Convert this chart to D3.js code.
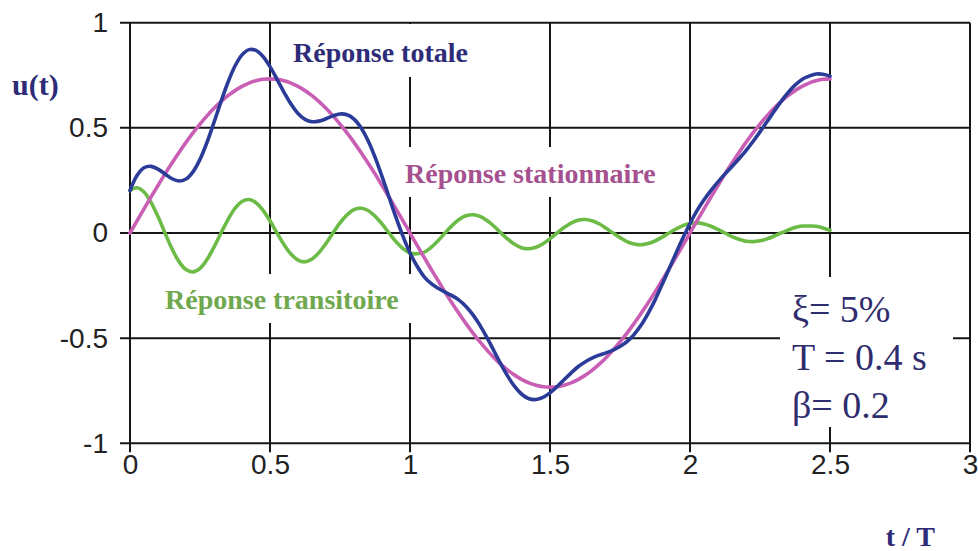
<!DOCTYPE html>
<html>
<head>
<meta charset="utf-8">
<script src="https://cdn.jsdelivr.net/npm/d3@7"></script>
<style>
  html, body { margin: 0; padding: 0; background: #ffffff; }
  svg { display: block; }
</style>
</head>
<body>
<svg id="chart" width="978" height="551"></svg>
<script>
// Sampling step of the curves along t/T (0 to 2.5)
const tStep = 0.025;

// Total response u(t)
const totalResponse = [
  0.202, 0.273, 0.310, 0.317, 0.304, 0.281, 0.258, 0.247, 0.257, 0.291,
  0.350, 0.431, 0.526, 0.625, 0.717, 0.794, 0.847, 0.872, 0.868, 0.839,
  0.791, 0.731, 0.669, 0.613, 0.568, 0.540, 0.529, 0.532, 0.543, 0.557,
  0.566, 0.562, 0.542, 0.501, 0.440, 0.361, 0.269, 0.171, 0.074, -0.016,
  -0.095, -0.157, -0.207, -0.240, -0.263, -0.281, -0.298, -0.319, -0.349, -0.389,
  -0.439, -0.498, -0.561, -0.625, -0.683, -0.732, -0.768, -0.788, -0.792, -0.782,
  -0.760, -0.731, -0.698, -0.666, -0.636, -0.613, -0.595, -0.581, -0.570, -0.557,
  -0.540, -0.517, -0.483, -0.439, -0.383, -0.319, -0.246, -0.171, -0.096, -0.023,
  0.045, 0.106, 0.158, 0.203, 0.243, 0.281, 0.316, 0.353, 0.392, 0.435,
  0.481, 0.529, 0.578, 0.625, 0.667, 0.703, 0.730, 0.746, 0.756, 0.755,
  0.746
];

// Steady-state response
const steadyResponse = [
  0.000, 0.058, 0.115, 0.171, 0.226, 0.281, 0.333, 0.383, 0.431, 0.476,
  0.518, 0.557, 0.593, 0.625, 0.653, 0.677, 0.697, 0.713, 0.724, 0.731,
  0.733, 0.731, 0.724, 0.713, 0.697, 0.677, 0.653, 0.625, 0.593, 0.557,
  0.518, 0.476, 0.431, 0.383, 0.333, 0.281, 0.226, 0.171, 0.115, 0.058,
  0.000, -0.058, -0.115, -0.171, -0.226, -0.281, -0.333, -0.383, -0.431, -0.476,
  -0.518, -0.557, -0.593, -0.625, -0.653, -0.677, -0.697, -0.713, -0.724, -0.731,
  -0.733, -0.731, -0.724, -0.713, -0.697, -0.677, -0.653, -0.625, -0.593, -0.557,
  -0.518, -0.476, -0.431, -0.383, -0.333, -0.281, -0.226, -0.171, -0.115, -0.058,
  0.000, 0.058, 0.115, 0.171, 0.226, 0.281, 0.333, 0.383, 0.431, 0.476,
  0.518, 0.557, 0.593, 0.625, 0.653, 0.677, 0.697, 0.713, 0.724, 0.731,
  0.733
];

// Transient (damped free vibration) response
const transientResponse = [
  0.202, 0.215, 0.195, 0.146, 0.078, 0.000, -0.075, -0.136, -0.174, -0.185,
  -0.168, -0.126, -0.067, 0.000, 0.064, 0.117, 0.150, 0.159, 0.144, 0.108,
  0.058, 0.000, -0.055, -0.100, -0.129, -0.137, -0.124, -0.093, -0.050, 0.000,
  0.048, 0.086, 0.111, 0.118, 0.107, 0.080, 0.043, 0.000, -0.041, -0.074,
  -0.095, -0.099, -0.092, -0.069, -0.037, 0.000, 0.035, 0.064, 0.082, 0.087,
  0.079, 0.059, 0.032, 0.000, -0.030, -0.055, -0.071, -0.075, -0.068, -0.051,
  -0.027, 0.000, 0.026, 0.047, 0.061, 0.064, 0.058, 0.044, 0.023, 0.000,
  -0.022, -0.041, -0.052, -0.056, -0.050, -0.038, -0.020, 0.000, 0.019, 0.035,
  0.045, 0.048, 0.043, 0.032, 0.017, 0.000, -0.017, -0.030, -0.039, -0.041,
  -0.037, -0.028, -0.015, 0.000, 0.014, 0.026, 0.033, 0.033, 0.032, 0.024,
  0.013
];

const xTicks = [0, 0.5, 1, 1.5, 2, 2.5, 3];
const xTickLabels = ["0", "0.5", "1", "1.5", "2", "2.5", "3"];
const yTicks = [1, 0.5, 0, -0.5, -1];
const yTickLabels = ["1", "0.5", "0", "-0.5", "-1"];

const seriesNames = ["Réponse totale", "Réponse stationnaire", "Réponse transitoire"];
const paramLines = ["ξ= 5%", "T = 0.4 s", "β= 0.2"];
const yTitle = "u(t)";
const xTitle = "t / T";

const svg = d3.select("#chart");
const W = 978, H = 551;
svg.append("rect").attr("width", W).attr("height", H).attr("fill", "#ffffff");

const x = d3.scaleLinear().domain([0, 3]).range([130, 970]);
const y = d3.scaleLinear().domain([-1, 1]).range([443.3, 22.7]);

const gridColor = "#161616";
const grid = svg.append("g");

// horizontal grid lines, extending left as tick marks
grid.selectAll("line.h").data(yTicks).join("line")
  .attr("x1", x(0) - 10).attr("x2", x(3))
  .attr("y1", d => y(d)).attr("y2", d => y(d))
  .attr("stroke", gridColor).attr("stroke-width", 2);

// vertical grid lines, extending below as tick marks
grid.selectAll("line.v").data(xTicks).join("line")
  .attr("x1", d => x(d)).attr("x2", d => x(d))
  .attr("y1", y(1)).attr("y2", y(-1) + 9)
  .attr("stroke", gridColor).attr("stroke-width", 2);

// tick labels
const yAxis = d3.axisLeft(y).tickValues(yTicks)
  .tickFormat((d, i) => yTickLabels[i]).tickSize(0).tickPadding(22);
const gy = svg.append("g").attr("transform", `translate(${x(0)},0)`).call(yAxis);
gy.select(".domain").remove();
gy.selectAll("text")
  .attr("font-family", "'Liberation Sans', Arial, sans-serif")
  .attr("font-size", 28).attr("fill", "#222");

const xAxis = d3.axisBottom(x).tickValues(xTicks)
  .tickFormat((d, i) => xTickLabels[i]).tickSize(0).tickPadding(11);
const gx = svg.append("g").attr("transform", `translate(0,${y(-1)})`).call(xAxis);
gx.select(".domain").remove();
gx.selectAll("text")
  .attr("font-family", "'Liberation Sans Narrow', 'Liberation Sans', Arial, sans-serif")
  .attr("font-size", 28).attr("fill", "#222");

// white backgrounds behind the annotations
const boxes = [
  [287, 24, 195, 53],
  [398, 147, 272, 50],
  [157, 274, 256, 49],
  [780, 277, 173, 150]
];
svg.append("g").selectAll("rect").data(boxes).join("rect")
  .attr("x", d => d[0]).attr("y", d => d[1])
  .attr("width", d => d[2]).attr("height", d => d[3])
  .attr("fill", "#ffffff");

// curves
const line = d3.line()
  .x((d, i) => x(i * tStep))
  .y(d => y(d))
  .curve(d3.curveCatmullRom.alpha(0.5));

const curves = [
  { data: transientResponse, color: "#6cbb47" },
  { data: steadyResponse, color: "#c95fb4" },
  { data: totalResponse, color: "#2b3b98" }
];
svg.append("g").selectAll("path").data(curves).join("path")
  .attr("d", d => line(d.data))
  .attr("fill", "none")
  .attr("stroke", d => d.color)
  .attr("stroke-width", 3.6)
  .attr("stroke-linejoin", "round")
  .attr("stroke-linecap", "round");

// series labels
const serif = "'Liberation Serif', 'Times New Roman', serif";
const labels = [
  { text: seriesNames[0], x: 293, y: 62, color: "#2e2c78" },
  { text: seriesNames[1], x: 405, y: 183, color: "#a5508f" },
  { text: seriesNames[2], x: 165, y: 309, color: "#6fa84e" }
];
svg.append("g").selectAll("text").data(labels).join("text")
  .attr("x", d => d.x).attr("y", d => d.y)
  .attr("font-family", serif).attr("font-weight", "bold")
  .attr("font-size", 28).attr("fill", d => d.color)
  .text(d => d.text);

// parameters
svg.append("g").selectAll("text").data(paramLines).join("text")
  .attr("x", 792).attr("y", (d, i) => 322 + i * 48)
  .attr("font-family", serif).attr("font-size", 38)
  .attr("fill", "#2f2c6e")
  .text(d => d);

// axis titles
svg.append("text").attr("x", 12).attr("y", 95)
  .attr("font-family", serif).attr("font-weight", "bold")
  .attr("font-size", 30).attr("fill", "#2e2c78")
  .text(yTitle);

svg.append("text").attr("x", 935).attr("y", 546).attr("text-anchor", "end")
  .attr("font-family", serif).attr("font-weight", "bold")
  .attr("font-size", 28).attr("fill", "#2e2c78")
  .text(xTitle);
</script>
</body>
</html>
